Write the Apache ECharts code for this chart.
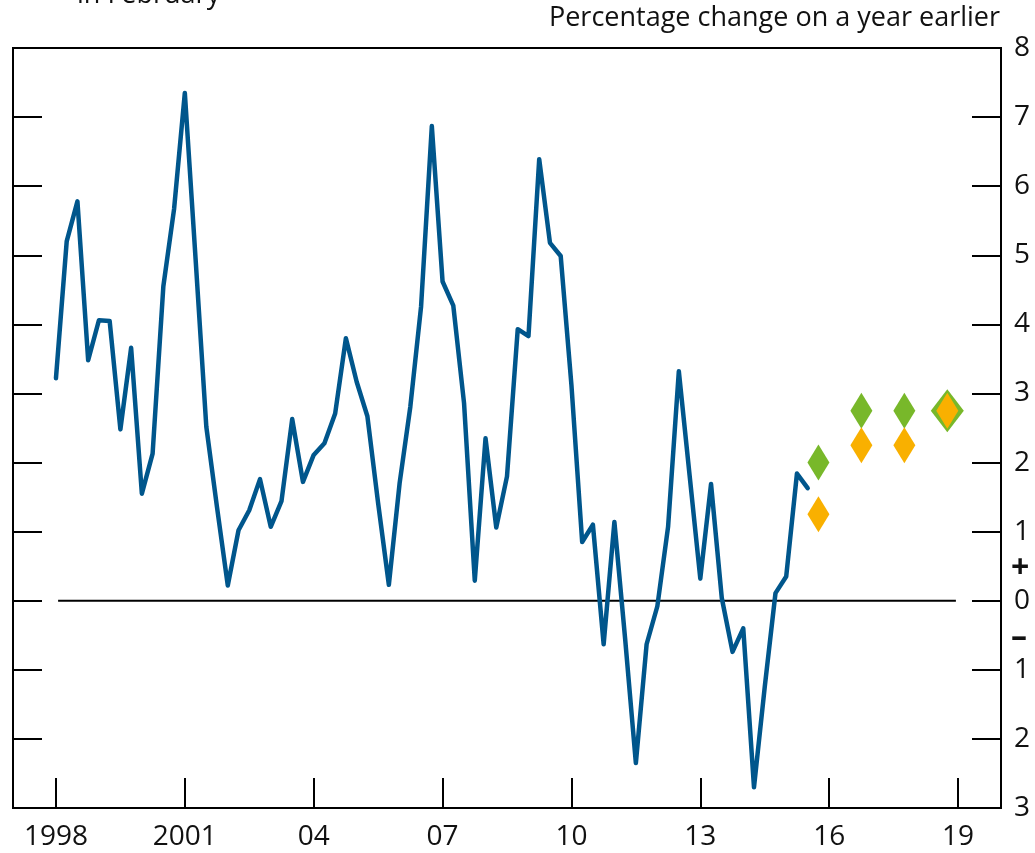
<!DOCTYPE html>
<html>
<head>
<meta charset="utf-8">
<title>Percentage change on a year earlier</title>
<script src="https://cdn.jsdelivr.net/npm/echarts@6/dist/echarts.min.js"></script>
<style>
    html, body { margin: 0; padding: 0; background: #fff; }
    #main { width: 1035px; height: 853px; }
</style>
</head>
<body>
<div id="main"></div>
<script>
// quarterly outturns, 1998 Q1 .. 2015 Q3
var startYear = 1998;
var outturn = [
    3.22, 5.20, 5.78, 3.48, 4.06, 4.05, 2.48, 3.66, 1.55, 2.13,
    4.55, 5.67, 7.35, 4.95, 2.52, 1.35, 0.22, 1.02, 1.31, 1.76,
    1.07, 1.44, 2.63, 1.72, 2.11, 2.28, 2.71, 3.80, 3.17, 2.67,
    1.41, 0.23, 1.70, 2.81, 4.26, 6.87, 4.62, 4.27, 2.86, 0.29,
    2.35, 1.06, 1.80, 3.93, 3.83, 6.39, 5.18, 4.99, 3.12, 0.85,
    1.10, -0.63, 1.14, -0.55, -2.35, -0.63, -0.08, 1.07, 3.32, 1.82,
    0.32, 1.69, 0.04, -0.74, -0.40, -2.70, -1.25, 0.11, 0.35, 1.84,
    1.63
];
// projections
var projYears = [2015.75, 2016.75, 2017.75, 2018.75];
var projGreen = [2.0, 2.75, 2.75, 2.75];
var projOrange = [1.25, 2.25, 2.25, 2.75];
var zeroLine = [[1998.05, 0], [2018.95, 0]];
var tickYears = [1998, 2001, 2004, 2007, 2010, 2013, 2016, 2019];
var tickLabels = ['1998', '2001', '04', '07', '10', '13', '16', '19'];

var FONT = '"Open Sans", "Noto Sans", sans-serif';

var lineData = outturn.map(function (v, i) {
    return [startYear + i / 4, v];
});
var greenData = projYears.map(function (y, i) { return [y, projGreen[i]]; });
var orangeData = projYears.map(function (y, i) { return [y, projOrange[i]]; });

var myChart = echarts.init(document.getElementById('main'));

var yAxisBase = {
    type: 'value',
    min: -3,
    max: 8,
    interval: 1,
    splitLine: { show: false },
    axisLine: { show: true, onZero: false, lineStyle: { color: '#000', width: 2 } },
    axisTick: { show: true, inside: true, length: 29, lineStyle: { color: '#000', width: 2 } }
};

myChart.setOption({
    animation: false,
    grid: {
        left: 13, right: 34, top: 48, bottom: 45,
        show: true, borderColor: '#000', borderWidth: 2
    },
    xAxis: {
        type: 'value',
        min: 1997,
        max: 2020,
        splitLine: { show: false },
        axisLine: { show: true, onZero: false, lineStyle: { color: '#000', width: 2 } },
        axisTick: {
            show: true, inside: true, length: 30,
            customValues: tickYears,
            lineStyle: { color: '#000', width: 2 }
        },
        axisLabel: {
            customValues: tickYears,
            margin: 15,
            color: '#111',
            fontSize: 28,
            fontFamily: FONT,
            formatter: function (v) {
                var i = tickYears.indexOf(Math.round(v));
                return i >= 0 ? tickLabels[i] : '';
            }
        }
    },
    yAxis: [
        Object.assign({}, yAxisBase, {
            position: 'right',
            axisLabel: {
                margin: 13,
                color: '#111',
                fontSize: 28,
                fontFamily: FONT,
                formatter: function (v) { return String(Math.abs(v)); }
            }
        }),
        Object.assign({}, yAxisBase, {
            position: 'left',
            axisLabel: { show: false }
        })
    ],
    graphic: [
        {
            type: 'text', left: 77, top: -18,
            style: { text: 'in February', font: '27px ' + FONT, fill: '#111' }
        },
        {
            type: 'text', right: 35, top: 5,
            style: { text: 'Percentage change on a year earlier', font: '27px ' + FONT, fill: '#111' }
        },
        {
            type: 'text', left: 1011, top: 553,
            style: { text: '+', font: 'bold 32px ' + FONT, fill: '#111' }
        },
        {
            type: 'text', left: 1011, top: 622,
            style: { text: '\u2013', font: 'bold 32px ' + FONT, fill: '#111' }
        }
    ],
    series: [
        {
            name: 'zero',
            type: 'line',
            data: zeroLine,
            symbol: 'none',
            silent: true,
            lineStyle: { color: '#000', width: 2 }
        },
        {
            name: 'Outturn',
            type: 'line',
            data: lineData,
            symbol: 'none',
            lineStyle: { color: '#00568C', width: 4.5, join: 'round', cap: 'round' }
        },
        {
            name: 'Projection A',
            type: 'scatter',
            data: greenData,
            symbol: 'diamond',
            symbolSize: function (v, p) {
                return p.dataIndex === projYears.length - 1 ? [33, 43] : [22, 36];
            },
            itemStyle: { color: '#78B82A', opacity: 1 }
        },
        {
            name: 'Projection B',
            type: 'scatter',
            data: orangeData,
            symbol: 'diamond',
            symbolSize: [22, 36],
            itemStyle: { color: '#F9B000', opacity: 1 }
        }
    ]
});
</script>
</body>
</html>
